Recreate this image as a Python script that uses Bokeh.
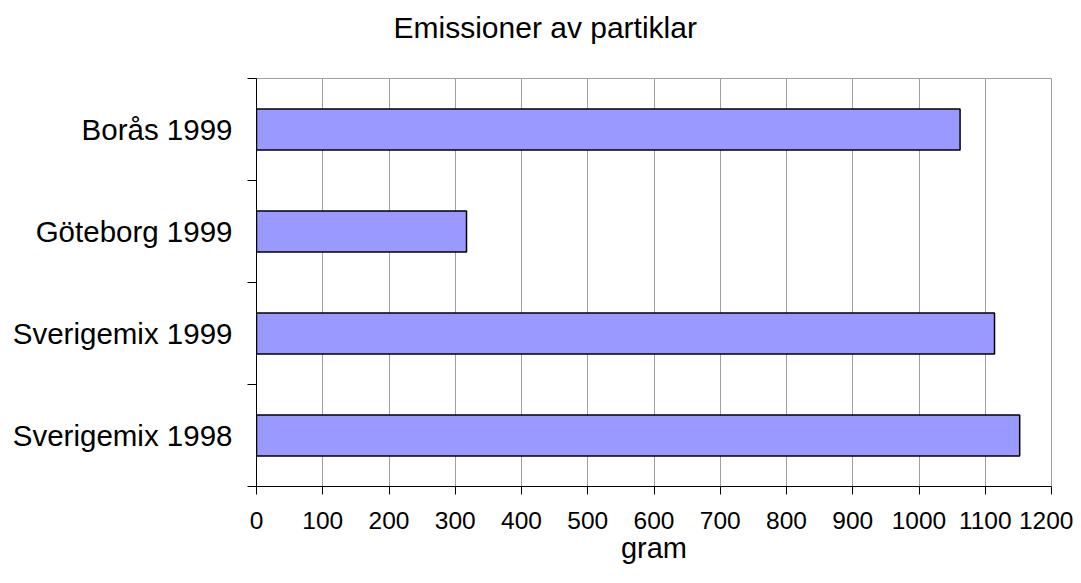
from bokeh.plotting import figure
from bokeh.models import Range1d, FixedTicker, Title, ColumnDataSource
from bokeh.embed import file_html
from bokeh.resources import INLINE

# Data (bottom to top)
categories = ["Sverigemix 1998", "Sverigemix 1999", "Göteborg 1999", "Borås 1999"]
values = [1152, 1114, 317, 1062]
x_ticks = [0, 100, 200, 300, 400, 500, 600, 700, 800, 900, 1000, 1100, 1200]
title_text = "Emissioner av partiklar"
x_label = "gram"

FONT = "Liberation Sans"

centers = [i + 0.5 for i in range(len(categories))]
bounds = [i for i in range(len(categories) + 1)]

src = ColumnDataSource(dict(y=centers, right=values, cat=categories))

p = figure(width=1073, height=575, output_backend="svg", toolbar_location=None,
           x_range=Range1d(0, 1200), y_range=Range1d(0, len(categories)),
           min_border_left=256, min_border_right=22, min_border_top=78, min_border_bottom=89)
p.background_fill_color = "white"
p.border_fill_color = "white"
p.outline_line_color = "#a0a0a0"
p.outline_line_width = 1

p.hbar(y="y", right="right", left=0, height=0.4, source=src,
       fill_color="#9999FF", line_color="black", line_width=1.5)

# x axis
xa = p.xaxis[0]
xa.ticker = FixedTicker(ticks=x_ticks)
xa.axis_line_color = "black"
xa.major_tick_line_color = "black"
xa.major_tick_out = 8
xa.major_tick_in = 0
xa.minor_tick_line_color = None
xa.major_label_text_font = FONT
xa.major_label_text_font_size = "24.5px"
xa.major_label_text_color = "black"
xa.major_label_standoff = 17
xa.axis_label = x_label
xa.axis_label_text_font = FONT
xa.axis_label_text_font_size = "29px"
xa.axis_label_text_font_style = "normal"
xa.axis_label_text_color = "black"
xa.axis_label_standoff = 0

# y axis: labels at category centers, ticks at boundaries
ya = p.yaxis[0]
ya.ticker = FixedTicker(ticks=centers, minor_ticks=bounds)
ya.major_label_overrides = {c: lab for c, lab in zip(centers, categories)}
ya.axis_line_color = "black"
ya.major_tick_line_color = None
ya.major_tick_out = 0
ya.major_tick_in = 0
ya.minor_tick_line_color = "black"
ya.minor_tick_out = 9
ya.minor_tick_in = 0
ya.major_label_text_font = FONT
ya.major_label_text_font_size = "29.5px"
ya.major_label_text_color = "black"
ya.major_label_standoff = 15

# grids
p.xgrid.ticker = FixedTicker(ticks=x_ticks)
p.xgrid.grid_line_color = "#a0a0a0"
p.xgrid.grid_line_width = 1
p.ygrid.grid_line_color = None

# title: a blank spacer next to the frame, then the real title above it
p.title.text = ""
spacer = Title(text=" ", text_font=FONT, text_font_size="30px", standoff=0)
p.add_layout(spacer, "above")
t = Title(text=title_text, align="left", offset=137, text_font=FONT,
          text_font_size="30px", text_font_style="normal", text_color="black",
          standoff=0)
p.add_layout(t, "above")

open("out.html", "w").write(file_html(p, INLINE))
